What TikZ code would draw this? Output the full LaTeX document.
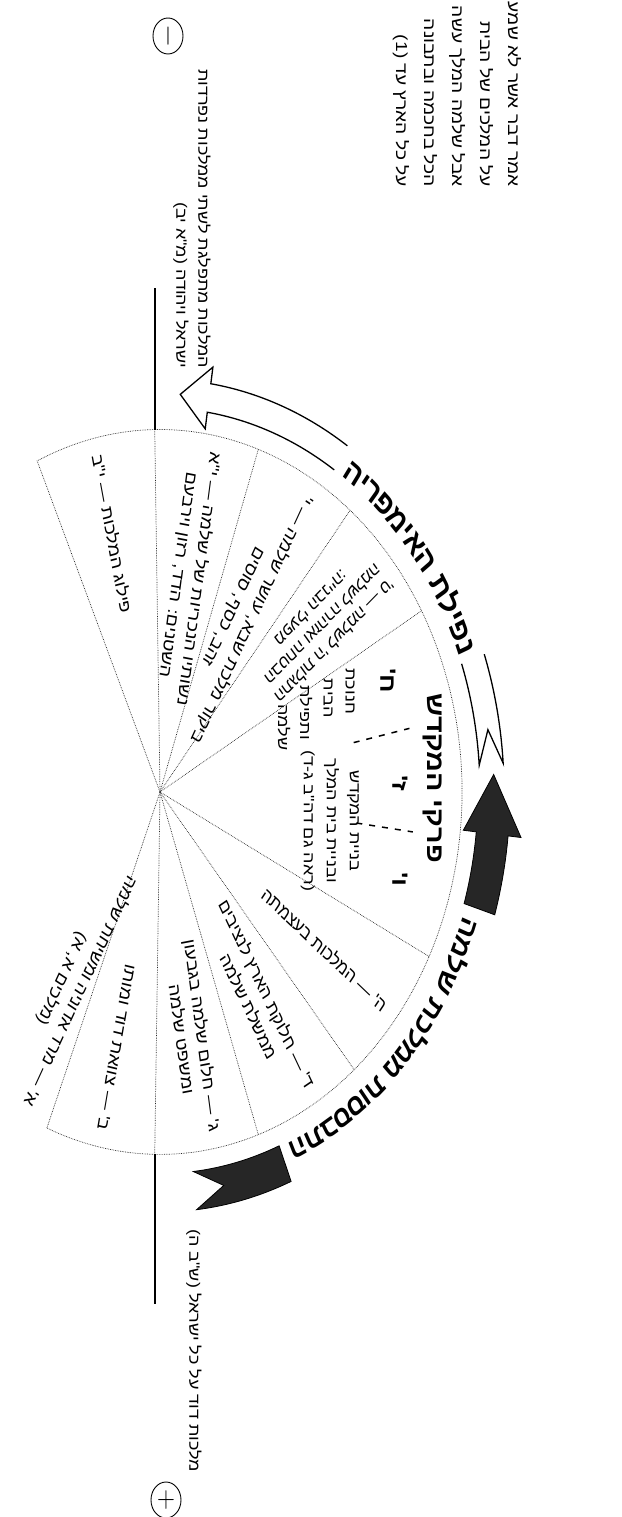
\documentclass[tikz,border=0pt]{standalone}
\usepackage{fontspec}
\setmainfont{Liberation Sans}
\newfontfamily\heb[Script=Hebrew]{Liberation Sans}
\TeXXeTstate=1
\newcommand{\hb}[1]{\beginR#1\endR}
\tikzset{
  sector/.style={draw=black!85, line width=0.7pt, densely dotted},
  axisline/.style={line width=1.6pt},
  sepdash/.style={line width=1.5pt, dash pattern=on 6pt off 7pt},
  sectext/.style={font=\heb\fontsize{16}{21}\selectfont, inner sep=0pt, align=center},
  axistext/.style={font=\heb\fontsize{15}{22}\selectfont, inner sep=0pt, align=right, rotate=-90},
  linetext/.style={font=\heb\fontsize{15}{15}\selectfont, inner sep=0pt, rotate=-90},
  bignum/.style={font=\heb\bfseries\fontsize{22}{22}\selectfont, inner sep=0pt, rotate=-90},
  marker/.style={draw, circle, line width=0.9pt, minimum size=30pt, inner sep=0pt, font=\fontsize{24}{24}\selectfont},
  hollow/.style={draw, line width=1.3pt},
  solidarrow/.style={fill=black!85, draw=black, line width=0.8pt},
  titlechar/.style={font=\heb\bfseries\fontsize{#1}{#1}\selectfont, inner sep=0pt, anchor=base}
}
\begin{document}
\begin{tikzpicture}[x=1pt, y=1pt, yscale=1.2, transform shape]
\useasboundingbox (-160,-604.17) rectangle (461,660);

% the fan of chapters
\draw[sector] (-112:302) -- (0,0) -- (114:302) arc[start angle=114, end angle=-112, radius=302];
\foreach \a in {91,71,51,30,-27,-50,-71,-91}
  \draw[sector] (0,0) -- (\a:302);
\draw[sepdash] (12:198) -- (12:255);
\draw[sepdash] (-7.5:198) -- (-7.5:255);

% time axis
\draw[axisline] (91:302) -- ++(0,118) coordinate (topend);
\draw[axisline] (-91:302) -- ++(0,-125) coordinate (botend);
\node[marker, rotate=-90] (minus) at (8,630) {$-$};
\node[marker] (plus) at (6,-590) {$+$};

% arrows round the fan
\draw[hollow] (19.5:344) arc[start angle=19.5, end angle=4, radius=344] -- (9:332) -- (4:320) arc[start angle=4, end angle=19.5, radius=320];
\draw[hollow] (57:344) arc[start angle=57, end angle=81.5, radius=344] -- (81.5:358) -- (86.5:332) -- (81.5:306) -- (81.5:320) arc[start angle=81.5, end angle=57, radius=320];
\filldraw[solidarrow] (-17:318) arc[start angle=-17, end angle=-6, radius=318] -- (-6:305) -- (2.5:334) -- (-6:363) -- (-6:350) arc[start angle=-6, end angle=-17, radius=350] -- cycle;
\filldraw[solidarrow] (-68:318) arc[start angle=-68, end angle=-84, radius=318] -- (-79:334) -- (-84:350) arc[start angle=-84, end angle=-68, radius=350] -- cycle;

% titles along the arc, letter by letter
\foreach \ch/\ang [count=\i] in {נ/21.6, פ/24.15, י/26.3, ל/28.4, ת/31.3, ה/35.95, א/39.1, י/41.4, מ/43.7, פ/46.8, ר/49.6, י/51.6, ה/53.9}
  \node[titlechar=27, rotate=\ang-90] (fall\i) at (\ang:320) {\ch};
\foreach \ch/\ang [count=\i] in {ה/-65.0, ת/-61.95, ב/-58.9, ס/-56.05, ס/-53.15, ו/-51.1, ת/-48.9, מ/-44.6, מ/-41.6, ל/-38.9, כ/-36.4, ת/-33.6, ש/-29.0, ל/-26.0, מ/-23.3, ה/-20.3}
  \node[titlechar=25, rotate=\ang-90] (rise\i) at (\ang:320) {\ch};

% chapters of the fall
\node[sectext, rotate=-77.5, anchor=west] (c12) at (102.5:288) {\hb{פילוג המלכות — י"ב}};
\node[sectext, rotate=-99, anchor=west] (c11) at (81:288) {\hb{נשותיו הנכריות של שלמה — י"א}\\\hb{השטנים: הדד, רזון וירבעם}};
\node[sectext, rotate=-119, anchor=west] (c10) at (61:288) {\hb{ביקור מלכת שבא, עושר שלמה — י'}\\\hb{זהב, כסף, סוסים}};
\node[sectext, rotate=-139.5, anchor=west, font=\heb\fontsize{15}{18}\selectfont] (c9) at (40.5:290) {\hb{התגלות ה' לשלמה — ט'}\\\hb{הבטחה ואזהרה לשלמה}\\\hb{מפעלי הבנייה:}};

% chapters of the temple
\node[bignum] (c8) at (228,93) {\hb{ח'}};
\node[bignum] (c7) at (240,7.5) {\hb{ז'}};
\node[bignum] (c6) at (240,-73) {\hb{ו'}};
\node[font=\heb\bfseries\fontsize{24}{24}\selectfont, rotate=-90, inner sep=0pt] (temple) at (273,11.7) {\hb{פרקי המקדש}};
\node[linetext] (c8a) at (190,84) {\hb{חנוכת}};
\node[linetext] (c8b) at (168,78) {\hb{הבית}};
\node[linetext] (c8c) at (146,66) {\hb{ותפילת}};
\node[linetext] (c8d) at (124,54) {\hb{שלמה}};
\node[sectext, rotate=-90, font=\heb\fontsize{15}{23}\selectfont] (c67t) at (170,-24) {\hb{בניית המקדש}\\\hb{ובניית בית המלך}\\\hb{(ראה גם דה"ב ג-ד)}};

% chapters of the rise
\node[sectext, rotate=-38.5, anchor=east] (c5) at (-38.5:288) {\hb{ה' — המלכות בעצמתה}};
\node[sectext, rotate=-60.5, anchor=east] (c4) at (-60.5:288) {\hb{ד' — חלוקת הארץ לנציבים}\\\hb{ממשלת שלמה}};
\node[sectext, rotate=-81, anchor=east] (c3) at (-81:288) {\hb{ג' — חלום שלמה בגבעון}\\\hb{ומשפט שלמה}};
\node[sectext, rotate=-101.5, anchor=east] (c2) at (-101.5:288) {\hb{ב' — צוואת דוד ומותו}};
\node[sectext, rotate=-119, anchor=east] (c1) at (-119:292) {\hb{א' — מרד אדוניה ומשיחת שלמה}\\\hb{(מלכים א, א)}};

% texts on the axis
\node[axistext, anchor=east] (after) at (32,353) {\hb{המלכות מתפלגת לשתי ממלכות נפרדות}\\\hb{ישראל ויהודה (מ"א יב)}};
\node[axistext, anchor=east] (before) at (34,-567) {\hb{מלכות דוד על כל ישראל (ש"ב ה)}};

% note
\node[axistext, font=\heb\fontsize{16}{28}\selectfont, anchor=east] (note) at (297,504) {\hb{אמר דבר אשר לא שמע}\\\hb{על המלכים של הבית}\\\hb{אבל שלמה המלך עשה}\\\hb{הכל בחכמה ובתבונה}\\\hb{על כל הארץ עד (1)}};
\end{tikzpicture}
\end{document}
